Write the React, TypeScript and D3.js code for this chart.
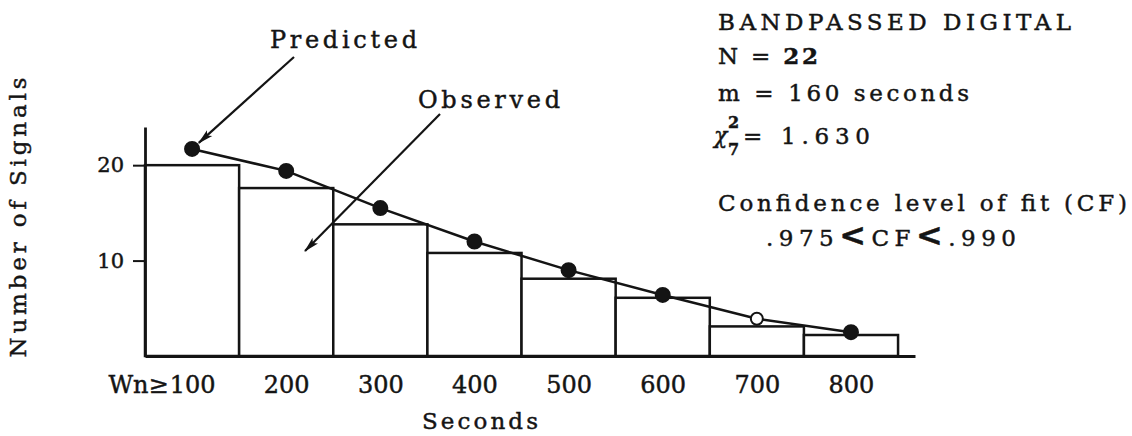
import { useEffect, useRef } from "react";
import * as d3 from "d3";

// duration thresholds (seconds), one bar per threshold
const seconds = [100, 200, 300, 400, 500, 600, 700, 800];
// observed number of signals lasting at least that long
const observed = [20, 17.6, 13.8, 10.8, 8.1, 6.1, 3.1, 2.2];
// predicted (fitted) number of signals
const predicted = [21.7, 19.4, 15.5, 12.0, 9.0, 6.4, 3.9, 2.5];
// predicted points drawn hollow
const hollowPoints = [700];
const yTicks = [10, 20];
const infoLines = ["BANDPASSED DIGITAL", "N = 22", "m = 160 seconds"];
const chiSquare = "= 1.630";
const cfLimits = [".975", ".990"];

export default function App() {
  const svgRef = useRef<SVGSVGElement>(null);

  useEffect(() => {
    if (!svgRef.current) return;
    document.body.style.margin = "0";

    const svg = d3.select(svgRef.current);
    svg.selectAll("*").remove();

    const width = 1132;
    const height = 436;
    const margin = { top: 127, right: 217, bottom: 80, left: 145 };
    const ink = "#141414";
    const serif = "'DejaVu Serif', 'Liberation Serif', serif";
    const inkStroke = 0.45; // thickens text a little, like the typed original

    const x = d3
      .scaleLinear()
      .domain([50, 868])
      .range([margin.left, width - margin.right]);

    const y = d3
      .scaleLinear()
      .domain([0, 24])
      .range([height - margin.bottom, margin.top]);

    const halfBin = 50;

    // Observed histogram bars
    svg
      .append("g")
      .selectAll("rect")
      .data(seconds)
      .join("rect")
      .attr("x", d => x(d - halfBin))
      .attr("width", d => x(d + halfBin) - x(d - halfBin))
      .attr("y", (_, i) => y(observed[i]))
      .attr("height", (_, i) => y(0) - y(observed[i]))
      .attr("fill", "#fff")
      .attr("stroke", ink)
      .attr("stroke-width", 2.5);

    // Predicted line
    const line = d3
      .line<number>()
      .x(d => x(d))
      .y((_, i) => y(predicted[i]));

    svg
      .append("path")
      .datum(seconds)
      .attr("fill", "none")
      .attr("stroke", ink)
      .attr("stroke-width", 2.5)
      .attr("d", line);

    // Y axis
    const yAxis = svg
      .append("g")
      .attr("transform", `translate(${x(50)},0)`)
      .call(d3.axisLeft(y).tickValues(yTicks).tickSize(12).tickSizeOuter(0).tickPadding(9));
    yAxis.select(".domain").attr("stroke", ink).attr("stroke-width", 2.8);
    yAxis.selectAll(".tick line").attr("stroke", ink).attr("stroke-width", 2);
    yAxis
      .selectAll(".tick text")
      .attr("fill", ink)
      .attr("stroke", ink)
      .attr("stroke-width", inkStroke)
      .attr("font-family", serif)
      .attr("font-size", 21);

    // X axis
    const xAxis = svg
      .append("g")
      .attr("transform", `translate(0,${y(0)})`)
      .call(d3.axisBottom(x).tickValues(seconds).tickSize(0).tickPadding(20).tickFormat(d => String(d)));
    xAxis.select(".domain").attr("stroke", ink).attr("stroke-width", 2.8);
    xAxis
      .selectAll(".tick text")
      .attr("fill", ink)
      .attr("stroke", ink)
      .attr("stroke-width", inkStroke)
      .attr("font-family", serif)
      .attr("font-size", 24);

    // "Wn≥" prefix in front of the first label
    const firstLabel = xAxis
      .selectAll<SVGTextElement, number>(".tick text")
      .filter(d => d === seconds[0])
      .node();
    if (firstLabel && firstLabel.parentNode) {
      const half = firstLabel.getComputedTextLength() / 2;
      d3.select(firstLabel.parentNode as SVGGElement)
        .append("text")
        .attr("x", -half - 1)
        .attr("y", 20)
        .attr("dy", "0.71em")
        .attr("text-anchor", "end")
        .attr("fill", ink)
        .attr("stroke", ink)
        .attr("stroke-width", inkStroke)
        .attr("font-family", serif)
        .attr("font-size", 24)
        .text("Wn≥");
    }

    // Predicted points
    svg
      .append("g")
      .selectAll("circle")
      .data(seconds)
      .join("circle")
      .attr("cx", d => x(d))
      .attr("cy", (_, i) => y(predicted[i]))
      .attr("r", d => (hollowPoints.includes(d) ? 6 : 7))
      .attr("fill", d => (hollowPoints.includes(d) ? "#fff" : ink))
      .attr("stroke", ink)
      .attr("stroke-width", 2);

    // Axis titles
    svg
      .append("text")
      .attr("x", 422)
      .attr("y", 429)
      .attr("font-family", serif)
      .attr("font-size", 23)
      .attr("fill", ink)
      .attr("stroke", ink)
      .attr("stroke-width", inkStroke)
      .attr("textLength", 116)
      .attr("lengthAdjust", "spacing")
      .text("Seconds");

    svg
      .append("text")
      .attr("transform", `translate(26,${(y(0) + y(24)) / 2 - 24}) rotate(-90)`)
      .attr("text-anchor", "middle")
      .attr("font-family", serif)
      .attr("font-size", 23)
      .attr("fill", ink)
      .attr("stroke", ink)
      .attr("stroke-width", inkStroke)
      .attr("textLength", 280)
      .attr("lengthAdjust", "spacing")
      .text("Number of Signals");

    // Annotation arrows
    const defs = svg.append("defs");
    defs
      .append("marker")
      .attr("id", "arrowHead")
      .attr("viewBox", "0 0 14 8")
      .attr("refX", 13)
      .attr("refY", 4)
      .attr("markerWidth", 16)
      .attr("markerHeight", 9)
      .attr("markerUnits", "userSpaceOnUse")
      .attr("orient", "auto")
      .append("path")
      .attr("d", "M0,0.5 L14,4 L0,7.5 L3,4 Z")
      .attr("fill", ink);

    const annotations = [
      { label: "Predicted", lx: 270, ly: 48, len: 147, sx: 294, sy: 57, tx: x(seconds[0]), ty: y(predicted[0]), pull: 9 },
      { label: "Observed", lx: 418, ly: 108, len: 142, sx: 440, sy: 114, tx: x(220), ty: y(11), pull: 0 },
    ];

    annotations.forEach(a => {
      const dx = a.sx - a.tx;
      const dy = a.sy - a.ty;
      const dist = Math.hypot(dx, dy);
      const ex = a.tx + (dx / dist) * a.pull;
      const ey = a.ty + (dy / dist) * a.pull;
      svg
        .append("line")
        .attr("x1", a.sx)
        .attr("y1", a.sy)
        .attr("x2", ex)
        .attr("y2", ey)
        .attr("stroke", ink)
        .attr("stroke-width", 2.2)
        .attr("marker-end", "url(#arrowHead)");
      svg
        .append("text")
        .attr("x", a.lx)
        .attr("y", a.ly)
        .attr("font-family", serif)
        .attr("font-size", 24)
        .attr("fill", ink)
        .attr("stroke", ink)
        .attr("stroke-width", inkStroke)
        .attr("textLength", a.len)
        .attr("lengthAdjust", "spacing")
        .text(a.label);
    });

    // Info block
    const info = svg
      .append("g")
      .attr("font-family", serif)
      .attr("fill", ink)
      .attr("stroke", ink)
      .attr("stroke-width", inkStroke);
    const infoLayout = [
      { y: 30, len: 353 },
      { y: 64, len: 100 },
      { y: 101, len: 251 },
    ];
    infoLines.forEach((t, i) => {
      const el = info
        .append("text")
        .attr("x", 718)
        .attr("y", infoLayout[i].y)
        .attr("font-size", 23)
        .attr("textLength", infoLayout[i].len)
        .attr("lengthAdjust", "spacing");
      if (t.startsWith("N =")) {
        el.append("tspan").text("N = ");
        el.append("tspan").attr("font-weight", "bold").text(t.slice(4));
      } else {
        el.text(t);
      }
    });

    // chi-square line
    info
      .append("text")
      .attr("x", 714)
      .attr("y", 143)
      .attr("font-size", 22)
      .attr("font-style", "italic")
      .text("χ");
    info
      .append("text")
      .attr("x", 728)
      .attr("y", 128)
      .attr("font-size", 16)
      .attr("font-weight", "bold")
      .text("2");
    info
      .append("text")
      .attr("x", 728)
      .attr("y", 155)
      .attr("font-size", 16)
      .attr("font-weight", "bold")
      .text("7");
    info
      .append("text")
      .attr("x", 743)
      .attr("y", 144)
      .attr("font-size", 23)
      .attr("textLength", 127)
      .attr("lengthAdjust", "spacing")
      .text(chiSquare);

    // Confidence level
    info
      .append("text")
      .attr("x", 718)
      .attr("y", 211)
      .attr("font-size", 23)
      .attr("textLength", 409)
      .attr("lengthAdjust", "spacing")
      .text("Confidence level of fit (CF)");

    const cf = info
      .append("text")
      .attr("x", 766)
      .attr("y", 246)
      .attr("font-size", 23)
      .attr("textLength", 250)
      .attr("lengthAdjust", "spacing");
    cf.append("tspan").text(cfLimits[0]);
    cf.append("tspan").attr("font-weight", "bold").attr("font-size", 32).text("<");
    cf.append("tspan").text("CF");
    cf.append("tspan").attr("font-weight", "bold").attr("font-size", 32).text("<");
    cf.append("tspan").text(cfLimits[1]);
  }, []);

  return (
    <svg
      ref={svgRef}
      width={1132}
      height={436}
      viewBox="0 0 1132 436"
      style={{ display: "block", background: "#fff" }}
    />
  );
}
